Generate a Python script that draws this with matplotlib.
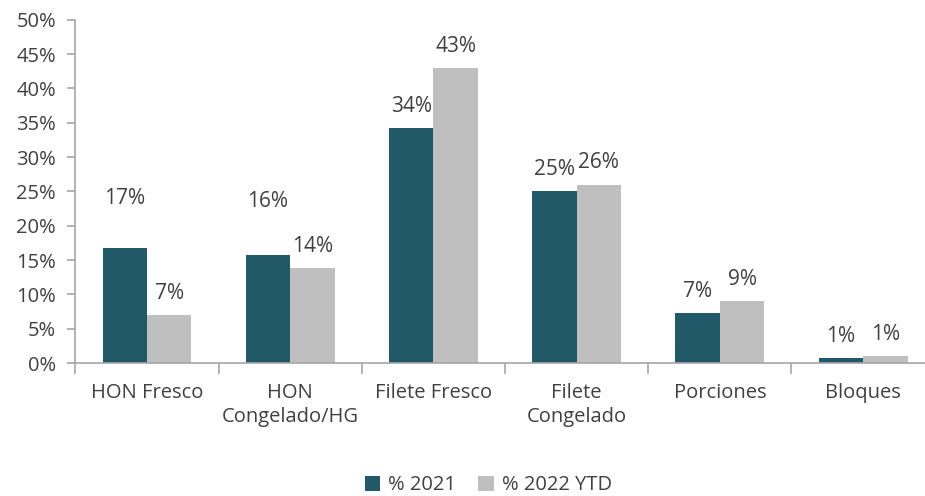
import matplotlib
matplotlib.use("Agg")
import matplotlib.pyplot as plt
import numpy as np

plt.rcParams["font.family"] = ["Open Sans", "DejaVu Sans"]

categories = ["HON Fresco", "HON\nCongelado/HG", "Filete Fresco", "Filete\nCongelado", "Porciones", "Bloques"]
values_2021 = [16.8, 15.8, 34.2, 25.1, 7.3, 0.7]
values_2022 = [7.0, 13.9, 43.0, 26.0, 9.0, 1.0]
labels_2021 = ["17%", "16%", "34%", "25%", "7%", "1%"]
labels_2022 = ["7%", "14%", "43%", "26%", "9%", "1%"]

# extra vertical lift (points) for labels that were nudged up in the original
lift_2021 = [20, 23, 0, 0, 0, 0]
lift_2022 = [0, 0, 0, 0, 0, 0]

c_2021 = "#215968"
c_2022 = "#bfbfbf"
txt = "#404040"

fig = plt.figure(figsize=(9.25, 4.96), dpi=100)
ax = fig.add_axes([0.0815, 0.268, 0.929, 0.692])

x = np.arange(len(categories))
w = 0.31
b1 = ax.bar(x - w / 2, values_2021, w, color=c_2021, label="% 2021")
b2 = ax.bar(x + w / 2, values_2022, w, color=c_2022, label="% 2022 YTD")

for bars, labs, lifts in ((b1, labels_2021, lift_2021), (b2, labels_2022, lift_2022)):
    for bar, lab, lift in zip(bars, labs, lifts):
        ax.annotate(lab, (bar.get_x() + bar.get_width() / 2, bar.get_height()),
                    xytext=(0, 8 + lift), textcoords="offset points",
                    ha="center", va="bottom", fontsize=15, color=txt)

ax.set_xlim(-0.5, len(categories) - 0.5)
ax.set_ylim(0, 50)
ax.set_yticks(np.arange(0, 51, 5))
ax.set_yticklabels([f"{v}%" for v in range(0, 51, 5)])
ax.set_xticks(x)
ax.set_xticklabels(categories, linespacing=1.3)
ax.set_xticks(np.arange(-0.5, len(categories), 1), minor=True)

for s in ("top", "right"):
    ax.spines[s].set_visible(False)
for s in ("left", "bottom"):
    ax.spines[s].set_color("#a6a6a6")
    ax.spines[s].set_linewidth(1.2)

ax.tick_params(axis="y", length=6, width=1.2, color="#a6a6a6", labelsize=14.5, labelcolor=txt, pad=8)
ax.tick_params(axis="x", which="major", length=0, labelsize=14.5, labelcolor=txt, pad=14)
ax.tick_params(axis="x", which="minor", length=8, width=1.2, color="#a6a6a6")

fig.legend(loc="lower center", bbox_to_anchor=(0.528, -0.035), ncol=2, frameon=False,
           fontsize=14.5, labelcolor=txt, handlelength=0.75, handleheight=0.75,
           handletextpad=0.4, columnspacing=1.1)

fig.savefig("out.png", dpi=100)
